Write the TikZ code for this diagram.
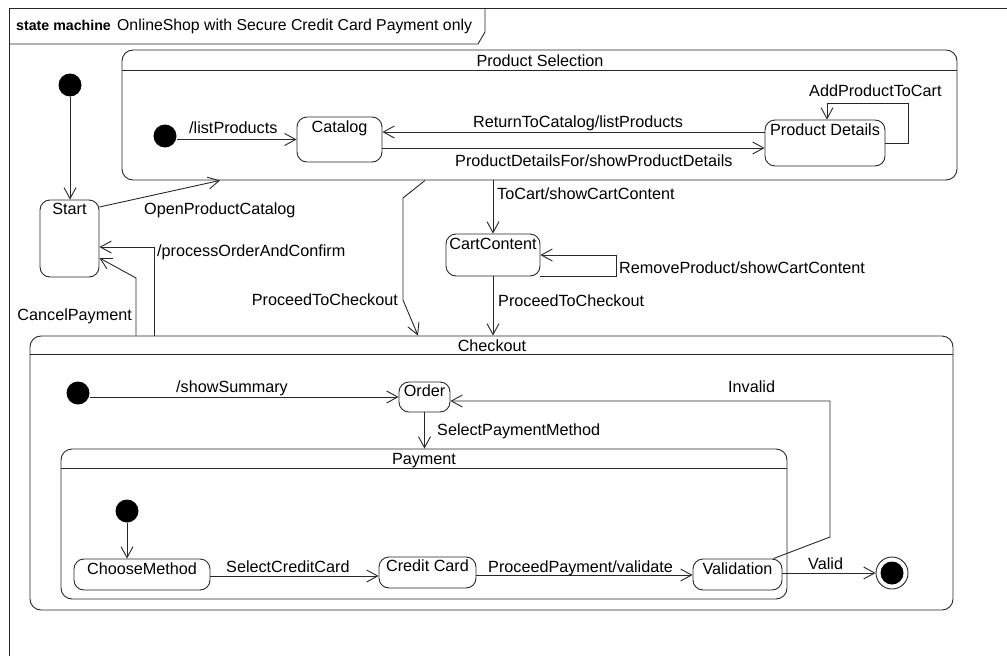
\documentclass[tikz,border=0pt]{standalone}
\usepackage{fontspec}
\setmainfont{Liberation Sans}
\usetikzlibrary{arrows.meta}
\definecolor{linec}{RGB}{40,40,40}
\begin{document}
\begin{tikzpicture}[x=1pt,y=-1pt,
  every node/.style={font=\fontsize{16.2}{18}\selectfont},
  base/.style={draw=linec, line width=0.9pt},
  st/.style={base, rounded corners=10pt, inner sep=0pt},
  comp/.style={base, rounded corners=11pt, inner sep=0pt},
  init/.style={circle, fill=black, inner sep=0pt, minimum size=23pt},
  lbl/.style={inner sep=0pt, anchor=base west},
  rlbl/.style={inner sep=0pt, anchor=base east},
  clbl/.style={inner sep=0pt, anchor=base},
  tr/.style={base, -{Straight Barb[length=11pt,width=12pt]}}]
\useasboundingbox (0,0) rectangle (1007,656);
% frame
\draw[base] (1007,8) -- (9,8) -- (9,656);
\draw[base] (9,44) -- (478,44) -- (485,32) -- (485,8);
\node[lbl] (ttl1) at (16,30) {\fontsize{14.2}{16}\selectfont\bfseries state machine};
\node[lbl] (ttl2) at (117,30) {\fontsize{15.8}{18}\selectfont OnlineShop with Secure Credit Card Payment only};

% ---- Product Selection
\node[comp, minimum width=835pt, minimum height=130pt] (ps) at (539.5,115) {};
\draw[base] (122,70) -- (957,70);
\node[clbl] (psT) at (540,66) {Product Selection};
\node[init] (ps0) at (165,136) {};
\node[st, minimum width=85pt, minimum height=45pt] (catalog) at (339.5,139.5) {};
\node[clbl] (catalogT) at ([yshift=-15.5pt]catalog.north) {Catalog};
\node[st, minimum width=120pt, minimum height=46pt] (pd) at (825,143) {};
\node[clbl] (pdT) at ([yshift=-15.5pt]pd.north) {Product Details};
\draw[tr] (ps0.east |- catalog.west) -- (catalog.west);
\node[lbl] (l1) at (189,133) {/listProducts};
\draw[tr] (pd.west |- 0,132) -- (catalog.east |- 0,132);
\node[lbl] (l2) at (473,127) {ReturnToCatalog/listProducts};
\draw[tr] (catalog.east |- 0,148) -- (pd.west |- 0,148);
\node[lbl] (l3) at (455,166) {ProductDetailsFor/showProductDetails};
\draw[tr] (pd.east |- 0,143) -- (908,143) |- (827,103) -- (pd.north -| 827,0);
\node[lbl] (l4) at (809,96) {AddProductToCart};

% ---- Start
\node[init] (init0) at (70,85) {};
\node[st, minimum width=59pt, minimum height=77pt] (start) at (69.5,238.5) {};
\node[clbl] (startT) at ([yshift=-15pt]start.north) {Start};
\draw[tr] (init0) -- (init0 |- start.north);
\draw[tr] (start.east |- 0,207) -- (ps.south -| 220,0);
\node[lbl] (l5) at (144,214) {OpenProductCatalog};

% ---- Cart
\node[st, minimum width=94pt, minimum height=42pt] (cart) at (493,255) {};
\node[clbl] (cartT) at ([yshift=-16pt]cart.north) {CartContent};
\draw[tr] (ps.south -| cart.north) -- (cart.north);
\node[lbl] (l6) at (497,199) {ToCart/showCartContent};
\draw[tr] (cart.south east) -| (616,255) -- (cart.east |- 0,255);
\node[lbl] (l7) at (619,273) {RemoveProduct/showCartContent};

% ---- Checkout
\node[comp, minimum width=923pt, minimum height=274pt] (co) at (491.5,473) {};
\draw[base] (30,354) -- (953,354);
\node[clbl] (coT) at (492,351) {Checkout};
\draw[tr] (cart.south) -- (co.north -| cart.south);
\node[lbl] (l8) at (498,306) {ProceedToCheckout};
\draw[tr] (ps.south -| 425,0) -- (403,198) -- (403,300) -- (co.north -| 418,0);
\node[rlbl] (l9) at (398,305) {ProceedToCheckout};
\draw[tr] (co.north -| 154,0) |- (start.east |- 0,247);
\node[lbl] (l10) at (157,256) {/processOrderAndConfirm};
\draw[tr] (co.north -| 136,0) -- (136,278) -- (start.east |- 0,258);
\node[rlbl] (l11) at (132,320) {CancelPayment};

\node[init] (co0) at (78,393) {};
\node[st, minimum width=51pt, minimum height=30pt] (order) at (424.5,397) {};
\node[clbl] (orderT) at ([yshift=-15pt]order.north) {Order};
\draw[tr] (co0.east |- order.west) -- (order.west);
\node[lbl] (l12) at (176,392) {/showSummary};

% ---- Payment
\node[comp, minimum width=726pt, minimum height=150pt] (pay) at (424,524) {};
\draw[base] (61,468) -- (787,468);
\node[clbl] (payT) at (424,464) {Payment};
\draw[tr] (order.south) -- (pay.north -| order.south);
\node[lbl] (l13) at (437,435) {SelectPaymentMethod};

\node[init] (p0) at (127,511) {};
\node[st, minimum width=136pt, minimum height=31pt] (cm) at (142,574.5) {};
\node[clbl] (cmT) at ([yshift=-16pt]cm.north) {ChooseMethod};
\node[st, minimum width=97pt, minimum height=31pt] (cc) at (427.5,572.5) {};
\node[clbl] (ccT) at ([yshift=-15pt]cc.north) {Credit Card};
\node[st, minimum width=89pt, minimum height=31pt] (val) at (737.5,574.5) {};
\node[clbl] (valT) at ([yshift=-16pt]val.north) {Validation};
\draw[tr] (p0) -- (p0 |- cm.north);
\draw[tr] (cm.east |- 0,576) -- (cc.west |- 0,576);
\node[lbl] (l14) at (226,572) {SelectCreditCard};
\draw[tr] (cc.east |- 0,575) -- (val.west |- 0,575);
\node[lbl] (l15) at (488,572) {ProceedPayment/validate};

\node[circle, base, fill=white, inner sep=0pt, minimum size=32pt] (fin) at (892,573) {};
\node[init] (finI) at (fin) {};
\draw[tr] (val.east |- 0,573) -- (fin.west);
\node[lbl] (l16) at (808,569) {Valid};
\draw[tr] ([xshift=-9pt]val.north east) -- (830,537) -- (830,401) -- (order.east |- 0,401);
\node[lbl] (l17) at (728,392) {Invalid};
\end{tikzpicture}
\end{document}
